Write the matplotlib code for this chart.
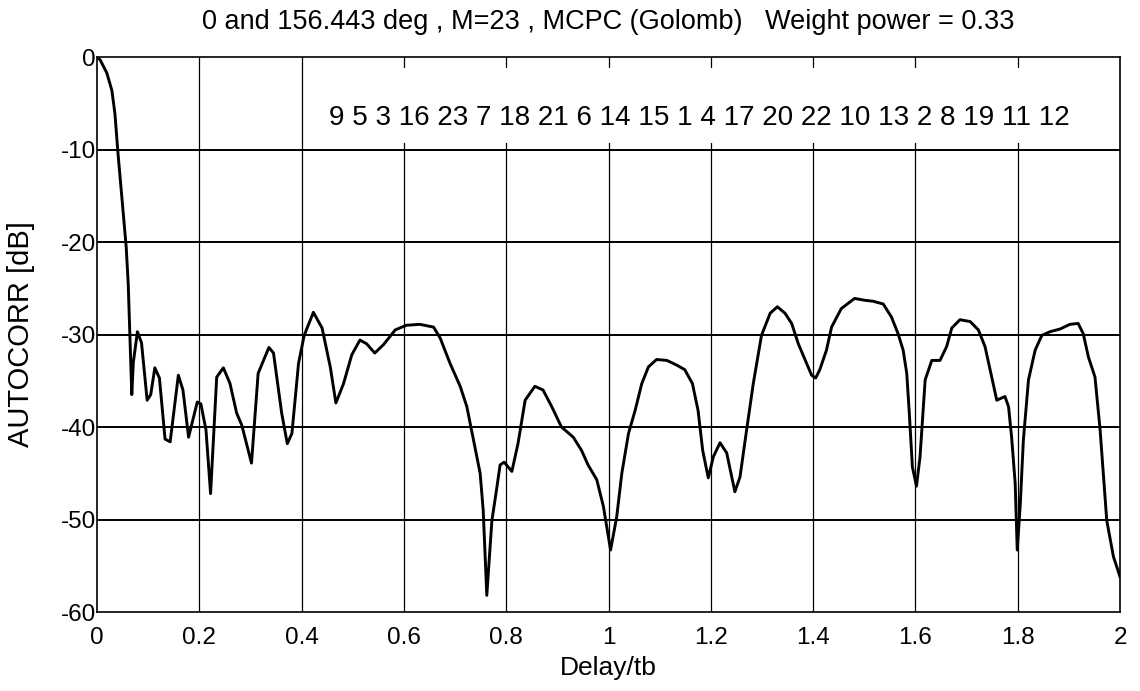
import numpy as np
import matplotlib
matplotlib.use("Agg")
import matplotlib.pyplot as plt
from matplotlib.patches import Rectangle

plt.rcParams['font.family'] = ['Liberation Sans', 'DejaVu Sans']
plt.rcParams['axes.unicode_minus'] = False

delay = [0.0, 0.006, 0.019, 0.029, 0.035, 0.041, 0.057, 0.061, 0.068, 0.071,
         0.079, 0.087, 0.098, 0.105,
         0.113, 0.122, 0.133, 0.143, 0.159, 0.168, 0.179, 0.196, 0.203, 0.213,
         0.222, 0.234, 0.247, 0.260, 0.273, 0.283, 0.302, 0.315, 0.336, 0.345,
         0.361, 0.372, 0.381, 0.394, 0.405, 0.423, 0.440, 0.456, 0.467, 0.482,
         0.498, 0.514, 0.527, 0.543, 0.560, 0.583, 0.605, 0.631, 0.658, 0.671,
         0.690, 0.710, 0.723, 0.736, 0.749, 0.755, 0.762, 0.772, 0.781, 0.788,
         0.796, 0.811, 0.823, 0.837, 0.856, 0.872, 0.889, 0.908, 0.931, 0.947,
         0.960, 0.977, 0.990, 1.004, 1.016, 1.026, 1.039, 1.052, 1.065, 1.078,
         1.094, 1.114, 1.133, 1.149, 1.164, 1.175, 1.184, 1.195, 1.205, 1.218,
         1.231, 1.247, 1.257, 1.270, 1.283, 1.299, 1.316, 1.330, 1.345, 1.358,
         1.371, 1.387, 1.397, 1.405, 1.413, 1.426, 1.436, 1.455, 1.481, 1.501,
         1.517, 1.537, 1.553, 1.566, 1.576, 1.583, 1.588, 1.594, 1.602, 1.609,
         1.619, 1.632, 1.648, 1.661, 1.671, 1.687, 1.707, 1.723, 1.736, 1.746,
         1.759, 1.775, 1.782, 1.788, 1.795, 1.799, 1.805, 1.811, 1.821, 1.834,
         1.847, 1.863, 1.883, 1.902, 1.918, 1.928, 1.938, 1.951, 1.961, 1.974,
         1.987, 2.0]
autocorr = [0.0, -0.3, -1.7, -3.6, -6.1, -10.4, -20.5, -24.5, -36.5, -33.0,
            -29.7, -30.9, -37.1, -36.5,
            -33.6, -34.7, -41.3, -41.6, -34.4, -36.0, -41.1, -37.3, -37.5, -40.3,
            -47.2, -34.6, -33.6, -35.3, -38.5, -39.8, -43.9, -34.2, -31.4, -32.0,
            -38.5, -41.8, -40.7, -33.1, -30.1, -27.6, -29.3, -33.5, -37.4, -35.3,
            -32.2, -30.6, -31.0, -32.0, -31.1, -29.5, -29.0, -28.9, -29.2, -30.4,
            -33.1, -35.6, -37.8, -41.4, -45.0, -49.0, -58.2, -50.1, -46.8, -44.1,
            -43.8, -44.8, -41.8, -37.1, -35.6, -36.0, -37.8, -40.0, -41.1, -42.5,
            -44.1, -45.7, -48.6, -53.3, -49.7, -45.0, -40.7, -38.2, -35.3, -33.5,
            -32.7, -32.8, -33.3, -33.8, -35.3, -38.2, -42.5, -45.5, -43.2, -41.7,
            -42.8, -47.0, -45.4, -40.3, -35.3, -30.1, -27.7, -27.0, -27.7, -28.8,
            -31.0, -33.1, -34.4, -34.7, -33.8, -31.7, -29.2, -27.2, -26.1, -26.3,
            -26.4, -26.7, -28.1, -29.9, -31.7, -34.2, -38.5, -44.3, -46.4, -43.2,
            -34.9, -32.8, -32.8, -31.3, -29.3, -28.4, -28.6, -29.5, -31.3, -33.8,
            -37.1, -36.7, -37.8, -41.1, -46.1, -53.3, -48.3, -41.4, -34.9, -31.7,
            -30.1, -29.7, -29.4, -28.9, -28.8, -29.9, -32.4, -34.6, -40.3, -50.1,
            -54.0, -56.2]

code_order = "9 5 3 16 23 7 18 21 6 14 15 1 4 17 20 22 10 13 2 8 19 11 12"
title = "0 and 156.443 deg , M=23 , MCPC (Golomb)   Weight power = 0.33"

fig = plt.figure(figsize=(11.4, 6.91), dpi=100)
ax = fig.add_axes([0.0851, 0.1143, 0.8974, 0.8032])

ax.set_axisbelow(True)
ax.set_xlim(0, 2)
ax.set_ylim(-60, 0)
ax.set_xticks(np.arange(0, 2.01, 0.2))
ax.set_xticklabels(['0', '0.2', '0.4', '0.6', '0.8', '1', '1.2', '1.4', '1.6', '1.8', '2'])
ax.set_yticks(np.arange(-60, 1, 10))
for yv in range(-50, 0, 10):
    ax.axhline(yv, color='black', lw=1.4, zorder=0.5)
for xv in np.arange(0.2, 1.91, 0.2):
    ax.axvline(xv, color='black', lw=0.9, zorder=0.5)

# white box behind the code sequence
ax.add_patch(Rectangle((0.41, -9.3), 1.585, 8.1, facecolor='white',
                       edgecolor='none', zorder=1))
ax.text(1.177, -6.6, code_order, ha='center', va='center', fontsize=20, zorder=2)

ax.plot(delay, autocorr, color='black', lw=2.1, zorder=3)

ax.tick_params(length=0, labelsize=17.5)
ax.tick_params(axis='x', pad=11)
ax.tick_params(axis='y', pad=1)
for s in ax.spines.values():
    s.set_linewidth(1.2)

ax.set_xlabel('Delay/tb', fontsize=19, labelpad=5)
ax.set_ylabel('AUTOCORR [dB]', fontsize=21, labelpad=18)
ax.set_title(title, fontsize=19.5, pad=20)

fig.savefig('out.png', dpi=100)
